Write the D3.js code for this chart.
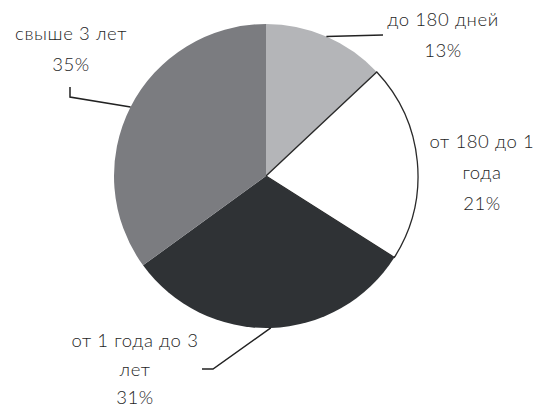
<!DOCTYPE html>
<html>
<head>
<meta charset="utf-8">
<script src="https://cdn.jsdelivr.net/npm/d3@7"></script>
<style>
  body { margin: 0; background: #fff; }
  svg text { font-family: "Lato", "Open Sans", sans-serif; font-size: 18.5px; font-weight: 300; letter-spacing: 0.6px; fill: #1e1e1e; }
</style>
</head>
<body>
<svg id="svg" width="534" height="407"></svg>
<script>
var categories = ["до 180 дней", "от 180 до 1 года", "от 1 года до 3 лет", "свыше 3 лет"];
var values = [13, 21, 31, 35];
var labelLines = [["до 180 дней", "13%"], ["от 180 до 1", "года", "21%"], ["от 1 года до 3", "лет", "31%"], ["свыше 3 лет", "35%"]];
var colors = ["#b4b5b8", "#ffffff", "#2f3235", "#7b7c80"];

var cx = 266, cy = 176, radius = 152;
// label anchor (center x, first baseline, line step) and leader elbow for each slice
var labelPos = [[443, 26, 31], [482, 148, 31], [135, 347, 28.5], [71, 40, 31]];
var leaders = [
  [[383, 35]],
  null,
  [[213, 369], [202, 369]],
  [[70, 97], [70, 87]]
];

var data = categories.map(function(c, i) { return {name: c, value: values[i], i: i}; });

var svg = d3.select("#svg");
var g = svg.append("g").attr("transform", "translate(" + cx + "," + cy + ")");

var pie = d3.pie().value(function(d) { return d.value; }).sort(null);
var arc = d3.arc().innerRadius(0).outerRadius(radius);
var edge = d3.arc().innerRadius(radius).outerRadius(radius);

var arcs = pie(data);

g.selectAll("path.slice")
  .data(arcs)
  .enter().append("path")
  .attr("class", "slice")
  .attr("d", arc)
  .attr("fill", function(d) { return colors[d.data.i]; })
  .attr("stroke", function(d) { return d.data.i === 1 ? "#2a2a2a" : "none"; })
  .attr("stroke-width", 1.3);

// leader lines: from the slice rim at mid angle to the label
arcs.forEach(function(d) {
  var l = leaders[d.data.i];
  if (!l) return;
  var c = edge.centroid(d);
  var pts = [[c[0] + cx, c[1] + cy]].concat(l);
  svg.append("path")
    .attr("d", d3.line()(pts))
    .attr("fill", "none")
    .attr("stroke", "#222")
    .attr("stroke-width", 1.5);
});

labelLines.forEach(function(lines, i) {
  var t = svg.append("text")
    .attr("text-anchor", "middle")
    .attr("x", labelPos[i][0])
    .attr("y", labelPos[i][1]);
  lines.forEach(function(s, k) {
    t.append("tspan")
      .attr("x", labelPos[i][0])
      .attr("dy", k === 0 ? 0 : labelPos[i][2])
      .text(s);
  });
});
</script>
</body>
</html>
